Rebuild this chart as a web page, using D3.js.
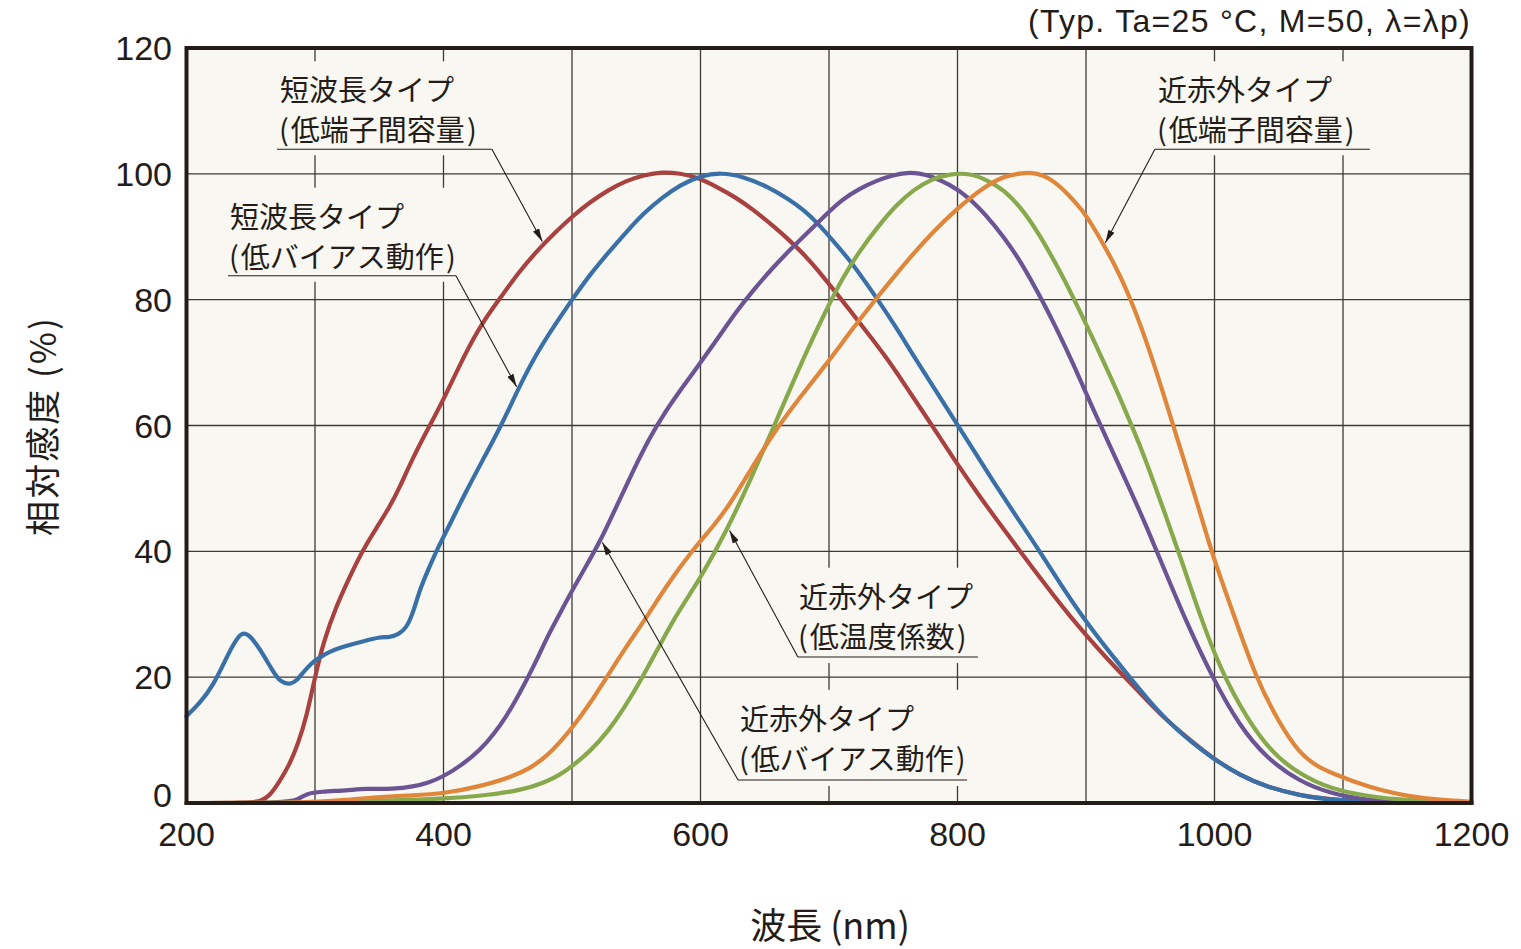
<!DOCTYPE html>
<html>
<head>
<meta charset="utf-8">
<script src="https://cdn.jsdelivr.net/npm/d3@7"></script>
<style>
  html, body { margin: 0; padding: 0; background: #ffffff; }
  svg { display: block; }
</style>
</head>
<body>
<svg id="chart" width="1521" height="949"></svg>
<script>
// ---------------- DATA ----------------
const xTicks = [200, 400, 600, 800, 1000, 1200];
const yTicks = [0, 20, 40, 60, 80, 100, 120];
const xGrid = [300, 400, 500, 600, 700, 800, 900, 1000, 1100];
const yGrid = [20, 40, 60, 80, 100];

// 短波長タイプ (低端子間容量) — red
const redNm = [200, 250, 258, 265, 272, 280, 287, 293.5, 300, 306.5, 317, 326, 336, 348, 358, 366, 376, 389, 400, 417, 430, 445, 458, 472, 486, 500, 514, 528, 542, 556, 570, 584, 598, 612, 628, 641, 655, 669, 680, 691, 703, 716, 730, 744, 758, 772, 786, 799, 818, 836, 856, 877, 888, 900, 917, 934, 948, 962, 981, 1000, 1020, 1040, 1066, 1092, 1120, 1150, 1200];
const redVal = [0, 0, 0.3, 1.2, 3.3, 6, 9.5, 13.8, 20, 25.6, 31.5, 35.5, 39.8, 43.8, 47.0, 50.2, 54.8, 59.9, 64.1, 71.5, 76.3, 80.5, 84.2, 87.6, 90.5, 93.2, 95.5, 97.4, 98.9, 99.8, 100.3, 100.1, 99.4, 98, 96.2, 94.3, 92, 89.5, 87.3, 84.8, 81.7, 78.4, 74.7, 71, 66.8, 62.5, 58.2, 54.1, 48.5, 43.5, 38, 32.4, 29.6, 26.7, 22.8, 19.2, 16.2, 13.3, 10, 6.9, 4.4, 2.6, 1.2, 0.5, 0.2, 0.1, 0];

// 短波長タイプ (低バイアス動作) — blue
const blueNm = [200, 210, 221, 232, 243, 252, 260, 267, 273, 280.5, 286, 291, 297, 304, 312, 320, 330, 338, 350, 358, 365, 371, 376, 382, 388, 395, 405, 417, 430, 445, 459, 472, 486, 500, 514, 528, 542, 556, 570, 584, 600, 616, 633, 652, 669, 680, 691, 703, 716, 727, 738, 752, 766, 783, 799, 815, 830, 847, 863, 881, 900, 917, 934, 948, 962, 981, 1000, 1020, 1040, 1066, 1092, 1144, 1200];
const blueVal = [13.8, 15.8, 18.7, 23.5, 27.8, 26, 23.5, 21, 19.2, 18.8, 19.5, 20.8, 22.2, 23.2, 24.1, 24.7, 25.3, 25.7, 26.4, 26.3, 26.8, 27.8, 30, 34.2, 37, 40.3, 44.3, 49.3, 54.3, 60, 66.2, 71.3, 75.8, 80, 84, 87.4, 90.7, 93.8, 96.2, 98.2, 99.7, 100.2, 99.6, 98, 95.9, 94.3, 92.2, 89.4, 86.3, 83.2, 80, 75.7, 71, 65.6, 60.4, 55.3, 50.4, 45.2, 40.3, 34.5, 28.8, 24.3, 20, 16.5, 13.3, 9.8, 6.9, 4.4, 2.6, 1.2, 0.4, 0.1, 0];

// 近赤外タイプ (低バイアス動作) — purple
const purpleNm = [200, 280, 287, 293.5, 304, 325, 340, 361, 376.5, 388, 400, 414, 428.5, 439, 449, 457, 465, 473, 480, 489, 498, 510, 522, 535, 548, 560, 572, 585, 600, 614, 627, 641, 655, 669, 683, 697, 710, 724, 738, 750, 761, 770, 780, 794, 808, 822, 836, 850, 863, 877, 891, 905, 919, 933, 947, 960, 978, 999, 1019, 1040, 1066, 1092, 1118, 1144, 1200];
const purpleVal = [0, 0, 0.6, 1.5, 1.8, 2.0, 2.3, 2.2, 2.6, 3.2, 4.2, 6, 8.4, 10.9, 13.8, 16.6, 19.7, 22.9, 26.1, 29.5, 33, 37.3, 41.6, 47.3, 53, 57.9, 62, 65.8, 70, 74, 77.9, 81.5, 84.8, 87.8, 90.6, 93.4, 95.9, 97.7, 99, 99.8, 100.2, 100.1, 99.6, 98.3, 96.4, 93.5, 90, 85.8, 81, 75.5, 69.4, 62.8, 56.6, 50.4, 44, 37.6, 28.8, 19.7, 12.4, 7.2, 3.4, 1.4, 0.5, 0.15, 0];

// 近赤外タイプ (低温度係数) — green
const greenNm = [200, 300, 325, 351, 376, 400, 428, 454, 468, 480, 490, 500, 514, 527, 541, 555, 568, 581, 592, 600, 621, 638, 655, 669, 683, 697, 710, 724, 738, 752, 766, 780, 794, 810, 823, 836, 850, 863, 877, 891, 905, 919, 933, 947, 960, 974, 988, 1004, 1025, 1048, 1079, 1105, 1144, 1200];
const greenVal = [0, 0, 0.3, 0.4, 0.5, 0.7, 1.1, 1.8, 2.5, 3.4, 4.4, 5.8, 8.2, 11.1, 15.2, 20, 25, 29.8, 33.3, 35.8, 43.5, 51, 58.8, 65.5, 72, 78, 83.3, 87.8, 91.6, 95, 97.5, 99.2, 100, 100.1, 99, 97.5, 94.5, 90.6, 85.6, 80, 74, 67.8, 61.3, 54.3, 46.8, 38.8, 30.2, 21.5, 13.4, 7.0, 3.1, 1.5, 0.4, 0.1];

// 近赤外タイプ (低端子間容量) — orange
const orangeNm = [200, 290, 325, 351, 376, 400, 428, 454, 468, 480, 490, 500, 514, 527, 542, 558, 575, 595, 610, 622, 638, 655, 677, 699, 718, 738, 752, 766, 782, 799, 810, 822, 832, 841, 850, 858, 866, 874, 885, 897, 905, 913, 923, 933, 947, 960, 974, 988, 999, 1014, 1032, 1050, 1066, 1080, 1092, 1118, 1157, 1200];
const orangeVal = [0, 0, 0.5, 1.0, 1.2, 1.5, 2.6, 4.2, 5.6, 7.4, 9.5, 11.9, 15.8, 20, 24.8, 29.5, 35, 40.5, 44, 47.2, 52.6, 58.3, 64.4, 70, 75.3, 80.5, 84, 87.4, 91, 94.3, 96.2, 98, 99.2, 99.8, 100.1, 100.2, 99.8, 99, 97, 94.3, 91.8, 89, 85.3, 81, 73.5, 65.2, 56, 46.7, 39, 30.5, 20, 12.8, 7.9, 5.8, 4.7, 2.6, 0.7, 0.2];

const seriesNames = ["短波長タイプ (低端子間容量)", "短波長タイプ (低バイアス動作)", "近赤外タイプ (低バイアス動作)", "近赤外タイプ (低温度係数)", "近赤外タイプ (低端子間容量)"];

// annotation texts (in drawing order of the annotations below)
const annLine1 = ["短波長タイプ", "短波長タイプ", "近赤外タイプ", "近赤外タイプ", "近赤外タイプ"];
const annLine2 = ["低端子間容量", "低バイアス動作", "低温度係数", "低バイアス動作", "低端子間容量"];

const noteText = "(Typ. Ta=25 °C, M=50, λ=λp)";
const xTitle = "波長 (nm)";
const yTitle = "相対感度 (%)";

// ---------------- STYLE / LAYOUT ----------------
const colors = ["#a8413f", "#3a70a8", "#6b5494", "#88a84c", "#e0863a"];
const plotBg = "#f8f7f1";
const ink = "#231c19";
const gridCol = "#3f3936";
const cjk = "'Noto Sans CJK JP', 'Noto Sans', sans-serif";
const latin = "'Liberation Sans', Arial, Helvetica, sans-serif";

const svg = d3.select("#chart");
const L = 186.5, R = 1471.5, T = 48, B = 803;
const x = d3.scaleLinear().domain([200, 1200]).range([L, R]);
const y = d3.scaleLinear().domain([0, 120]).range([B, T]);

const series = [
  {nm: redNm, v: redVal},
  {nm: blueNm, v: blueVal},
  {nm: purpleNm, v: purpleVal},
  {nm: greenNm, v: greenVal},
  {nm: orangeNm, v: orangeVal}
].map((s, i) => ({name: seriesNames[i], color: colors[i], pts: s.nm.map((n, j) => [n, s.v[j]])}));

function valueAt(s, nm) {
  const p = s.pts;
  for (let i = 1; i < p.length; i++) {
    if (nm <= p[i][0]) {
      const t = (nm - p[i-1][0]) / (p[i][0] - p[i-1][0]);
      return p[i-1][1] + t * (p[i][1] - p[i-1][1]);
    }
  }
  return p[p.length-1][1];
}

// plot background
svg.append("rect").attr("x", L).attr("y", T).attr("width", R - L).attr("height", B - T).attr("fill", plotBg);

// grid
const grid = svg.append("g");
grid.selectAll("line.v").data(xGrid).join("line")
  .attr("x1", d => x(d)).attr("x2", d => x(d)).attr("y1", T).attr("y2", B)
  .attr("stroke", gridCol).attr("stroke-width", 1.3);
grid.selectAll("line.h").data(yGrid).join("line")
  .attr("x1", L).attr("x2", R).attr("y1", d => y(d)).attr("y2", d => y(d))
  .attr("stroke", gridCol).attr("stroke-width", 1.3);

// annotation definitions (text anchor in data units, arrow target on a series)
const anns = [
  {s: 0, tx: 272.8, ty: 113.6, ul: [270.4, 437.7], uy: 103.9, from: "right", tip: 478},
  {s: 1, tx: 233.9, ty: 93.5, ul: [232.3, 409.7], uy: 83.8, from: "right", tip: 458},
  {s: 3, tx: 676.6, ty: 33.1, ul: [675.8, 815.9], uy: 23.2, from: "left", tip: 621.5},
  {s: 2, tx: 630.7, ty: 13.7, ul: [629.2, 807.4], uy: 3.66, from: "left", tip: 522.5},
  {s: 4, tx: 956, ty: 113.6, ul: [953.6, 1120.9], uy: 103.9, from: "left", tip: 914}
];
const lineGap = 40;

const boxLayer = svg.append("g");
const curveLayer = svg.append("g");
const annLayer = svg.append("g");

const annGroups = anns.map((a, k) => {
  const g = annLayer.append("g");
  g.append("text").attr("x", x(a.tx)).attr("y", y(a.ty))
    .attr("dominant-baseline", "central")
    .attr("font-family", cjk).attr("font-size", 29).attr("fill", ink)
    .text(annLine1[k]);
  const t2 = g.append("text").attr("x", x(a.tx) - 1).attr("y", y(a.ty) + lineGap)
    .attr("dominant-baseline", "central")
    .attr("font-family", cjk).attr("font-size", 29).attr("fill", ink);
  t2.append("tspan").text("(");
  t2.append("tspan").attr("dx", 2).text(annLine2[k]);
  t2.append("tspan").attr("dx", 2).text(")");
  g.append("line").attr("x1", x(a.ul[0])).attr("x2", x(a.ul[1]))
    .attr("y1", y(a.uy)).attr("y2", y(a.uy))
    .attr("stroke", ink).attr("stroke-width", 1.1);
  return g;
});

// masking boxes behind annotations
annGroups.forEach(g => {
  const b = g.node().getBBox();
  boxLayer.append("rect")
    .attr("x", b.x - 5).attr("y", b.y - 6)
    .attr("width", b.width + 10).attr("height", b.height + 12)
    .attr("fill", plotBg);
});

// curves
const line = d3.line().x(d => x(d[0])).y(d => y(d[1])).curve(d3.curveBasis);
curveLayer.selectAll("path").data(series).join("path")
  .attr("d", d => line(d.pts))
  .attr("fill", "none")
  .attr("stroke", d => d.color)
  .attr("stroke-width", 4.2)
  .attr("stroke-linejoin", "round")
  .attr("stroke-linecap", "round");

// leader lines with arrowheads
svg.append("defs").append("marker")
  .attr("id", "arr").attr("viewBox", "0 0 13 8").attr("refX", 13).attr("refY", 4)
  .attr("markerWidth", 13).attr("markerHeight", 8).attr("markerUnits", "userSpaceOnUse")
  .attr("orient", "auto")
  .append("path").attr("d", "M0,0.6 L13,4 L0,7.4 Z").attr("fill", ink);

anns.forEach(a => {
  const sx = a.from === "right" ? x(a.ul[1]) : x(a.ul[0]);
  const sy = y(a.uy);
  const tx = x(a.tip), ty = y(valueAt(series[a.s], a.tip));
  const dx = tx - sx, dy = ty - sy, len = Math.hypot(dx, dy);
  const ex = tx - dx / len * 3, ey = ty - dy / len * 3;
  annLayer.append("line").attr("x1", sx).attr("y1", sy).attr("x2", ex).attr("y2", ey)
    .attr("stroke", ink).attr("stroke-width", 1.1).attr("marker-end", "url(#arr)");
});

// frame
svg.append("rect").attr("x", L).attr("y", T).attr("width", R - L).attr("height", B - T)
  .attr("fill", "none").attr("stroke", ink).attr("stroke-width", 4);

// axes tick labels
svg.append("g").selectAll("text").data(xTicks).join("text")
  .attr("x", d => x(d)).attr("y", 846)
  .attr("text-anchor", "middle")
  .attr("font-family", latin).attr("font-size", 34).attr("fill", ink)
  .text(d => d);
svg.append("g").selectAll("text").data(yTicks).join("text")
  .attr("x", 172).attr("y", d => d === 0 ? y(d) - 8 : y(d))
  .attr("text-anchor", "end").attr("dominant-baseline", "central")
  .attr("font-family", latin).attr("font-size", 34).attr("fill", ink)
  .text(d => d);

// note
svg.append("text").attr("x", 1471).attr("y", 21)
  .attr("text-anchor", "end").attr("dominant-baseline", "central")
  .attr("font-family", latin).attr("font-size", 32).attr("letter-spacing", 1.3)
  .attr("fill", ink)
  .text(noteText);

// axis titles
svg.append("text").attr("x", 830).attr("y", 923)
  .attr("text-anchor", "middle").attr("dominant-baseline", "central")
  .attr("font-family", cjk).attr("font-size", 36).attr("fill", ink)
  .text(xTitle);
svg.append("text")
  .attr("transform", "translate(40,426) rotate(-90)")
  .attr("text-anchor", "middle").attr("dominant-baseline", "central")
  .attr("font-family", cjk).attr("font-size", 35).attr("letter-spacing", 2).attr("fill", ink)
  .text(yTitle);
</script>
</body>
</html>
